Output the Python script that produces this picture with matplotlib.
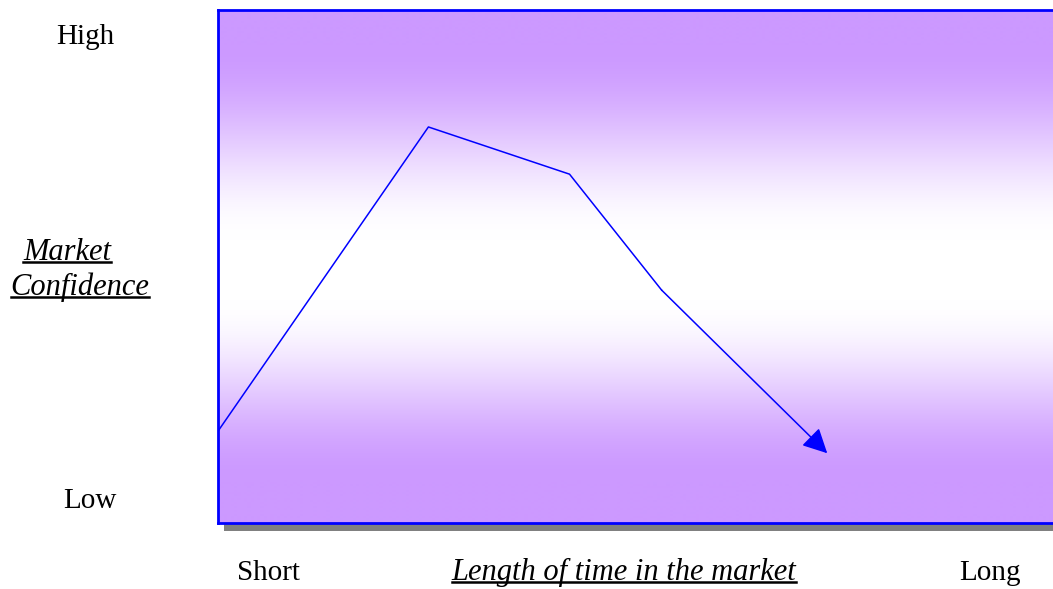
import numpy as np
import matplotlib.pyplot as plt
from matplotlib.patches import Rectangle
from matplotlib.lines import Line2D

plt.rcParams['font.family'] = ['Liberation Serif', 'DejaVu Serif']

# path of market confidence over time (axis units 0-10)
time_pts = [0.0, 2.49, 4.16, 5.25]
confidence_pts = [1.79, 7.72, 6.80, 4.54]
arrow_tip = (7.21, 1.36)

y_labels = ["Low", "High"]
x_labels = ["Short", "Long"]
x_title = "Length of time in the market"
y_title = ["Market", "Confidence"]

W, H = 1053, 589
fig = plt.figure(figsize=(W / 100, H / 100), dpi=100)

# axes box in pixels (right edge runs off the page)
left, top, bottom, right = 218, 10, 523, 1063
ax = fig.add_axes([left / W, (H - bottom) / H, (right - left) / W, (bottom - top) / H])
ax.set_xlim(0, 10)
ax.set_ylim(0, 10)

# shadow below the box
shadow = Rectangle(((left + 6) / W, (H - bottom - 7.5) / H), (right - left) / W, (bottom - top) / H,
                   transform=fig.transFigure, facecolor='#808080', edgecolor='none', zorder=-1)
fig.patches.append(shadow)

# vertical purple-white-purple gradient, smooth fade
purple = np.array([204, 153, 255]) / 255
white = np.array([1.0, 1.0, 1.0])
ypix = np.arange(top, bottom + 1).astype(float)


def smooth(a, b, x):
    t = np.clip((x - a) / (b - a), 0, 1)
    return t * t * (3 - 2 * t)


frac = np.maximum(1 - smooth(45, 240, ypix), smooth(300, 480, ypix))
img = white[None, :] * (1 - frac[:, None]) + purple[None, :] * frac[:, None]
ax.imshow(img[:, None, :], extent=[0, 10, 0, 10], aspect='auto', origin='upper',
          interpolation='bilinear', zorder=0)

ax.plot(time_pts, confidence_pts, color='#0000FF', lw=1.1, zorder=2)
ax.annotate('', xy=arrow_tip, xytext=(time_pts[-1], confidence_pts[-1]),
            arrowprops=dict(arrowstyle='-|>,head_length=0.75,head_width=0.38', color='#0000FF',
                            lw=1.1, mutation_scale=20, shrinkA=0, shrinkB=0), zorder=3)

ax.set_xticks([])
ax.set_yticks([])
for s in ax.spines.values():
    s.set_color('#0000FF')
    s.set_linewidth(2.0)

fs = 21
fs_it = 22
fig.text(85 / W, 1 - 37 / H, y_labels[1], ha='center', va='center', fontsize=fs)
fig.text(90 / W, 1 - 501 / H, y_labels[0], ha='center', va='center', fontsize=fs)
fig.text(268 / W, 1 - 573 / H, x_labels[0], ha='center', va='center', fontsize=fs)
fig.text(990 / W, 1 - 573 / H, x_labels[1], ha='center', va='center', fontsize=fs)

ul_texts = [
    fig.text(624 / W, 1 - 572 / H, x_title, ha='center', va='center', fontsize=fs_it, style='italic'),
    fig.text(67 / W, 1 - 252 / H, y_title[0], ha='center', va='center', fontsize=fs_it, style='italic'),
    fig.text(80 / W, 1 - 287 / H, y_title[1], ha='center', va='center', fontsize=fs_it, style='italic'),
]

# underline the italic titles
fig.canvas.draw()
r = fig.canvas.get_renderer()
for t in ul_texts:
    bb = t.get_window_extent(renderer=r)
    ybase = bb.y0 + 0.22 * bb.height - 2
    fig.add_artist(Line2D([bb.x0 / W, bb.x1 / W], [ybase / H, ybase / H],
                          transform=fig.transFigure, color='black', lw=1.8))

fig.savefig('out.png', dpi=100)
